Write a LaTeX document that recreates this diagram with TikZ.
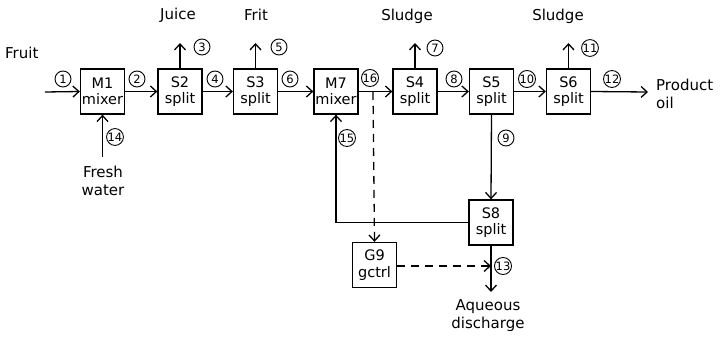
\documentclass[tikz,border=0pt]{standalone}
\usepackage{fontspec}
\setmainfont{DejaVu Sans}
\usetikzlibrary{arrows.meta}
\begin{document}
\begin{tikzpicture}[x=1pt,y=-1pt,
  unit/.style={draw,line width=1.3pt,minimum width=44pt,minimum height=45pt,inner sep=0pt,align=center,font=\fontsize{14.5}{16.5}\selectfont},
  lbl/.style={font=\fontsize{15}{18}\selectfont,inner sep=0pt,align=center},
  num/.style={draw,circle,line width=0.9pt,minimum size=16pt,inner sep=0pt,font=\fontsize{11.5}{11.5}\selectfont},
  flow/.style={line width=1.3pt,-{Straight Barb[length=6pt,width=11pt,line width=1.3pt]}},
  ctl/.style={flow,dash pattern=on 8pt off 6pt}]
\useasboundingbox (0,0) rectangle (724,337);
% units
\node[unit] (M1) at (102.5,91.5) {M1\\mixer};
\node[unit] (S2) at (180,91.5) {S2\\split};
\node[unit] (S3) at (255.5,91.5) {S3\\split};
\node[unit] (M7) at (336,91.5) {M7\\mixer};
\node[unit] (S4) at (415,91.5) {S4\\split};
\node[unit] (S5) at (491.5,91.5) {S5\\split};
\node[unit] (S6) at (568.5,91.5) {S6\\split};
\node[unit] (S8) at (491,222.5) {S8\\split};
\node[unit] (G9) at (374.5,265) {G9\\gctrl};
% free ends
\coordinate (fin) at (45,92);
\coordinate (fw) at (M1.south |- 0,157);
\coordinate (pout) at (648,92);
\coordinate (j) at (S2.north |- 0,43);
\coordinate (f) at (S3.north |- 0,43);
\coordinate (s1) at (S4.north |- 0,43);
\coordinate (s2) at (S6.north |- 0,43);
\coordinate (tap) at (373,92);
\coordinate (aq) at (S8.south |- 0,292);
\coordinate (inj) at (S8.south |- 0,266);
% labels
\node[lbl,anchor=west] (tFruit) at (5,53) {Fruit};
\node[lbl] (tJuice) at (178,15) {Juice};
\node[lbl] (tFrit) at (256,15) {Frit};
\node[lbl] (tSl1) at (407,16) {Sludge};
\node[lbl] (tSl2) at (558,16) {Sludge};
\node[lbl,anchor=west,align=left] (tProd) at (656,94) {Product\\oil};
\node[lbl] (tFresh) at (103,181) {Fresh\\water};
\node[lbl] (tAq) at (488,316) {Aqueous\\discharge};
% streams
\draw[flow] (fin) -- (M1.west);
\draw[flow] (M1) -- (S2);
\draw[flow] (S2) -- (S3);
\draw[flow] (S3) -- (M7);
\draw[flow] (M7) -- (S4);
\draw[flow] (S4) -- (S5);
\draw[flow] (S5) -- (S6);
\draw[flow] (S6.east) -- (pout);
\draw[flow] (S2.north) -- (j);
\draw[flow] (S3.north) -- (f);
\draw[flow] (S4.north) -- (s1);
\draw[flow] (S6.north) -- (s2);
\draw[flow] (fw) -- (M1.south);
\draw[flow] (S5.south) -- (S8.north);
\draw[flow] (S8.west) -| (M7.south);
\draw[flow] (S8.south) -- (aq);
\draw[ctl] (tap) -- (G9.north);
\draw[ctl] (G9.east |- inj) -- (inj);
% stream numbers
\node[num] (n1) at (63,79) {1};
\node[num] (n2) at (137,79) {2};
\node[num] (n3) at (202,47) {3};
\node[num] (n4) at (215,79) {4};
\node[num] (n5) at (279,47) {5};
\node[num] (n6) at (290,79) {6};
\node[num] (n7) at (435,48) {7};
\node[num] (n8) at (454,79) {8};
\node[num] (n9) at (506,138) {9};
\node[num] (n10) at (527,79) {10};
\node[num] (n11) at (590,48) {11};
\node[num] (n12) at (612,79) {12};
\node[num] (n13) at (503,266) {13};
\node[num] (n14) at (115,137) {14};
\node[num] (n15) at (347,138) {15};
\node[num] (n16) at (370,78) {16};
\end{tikzpicture}
\end{document}
